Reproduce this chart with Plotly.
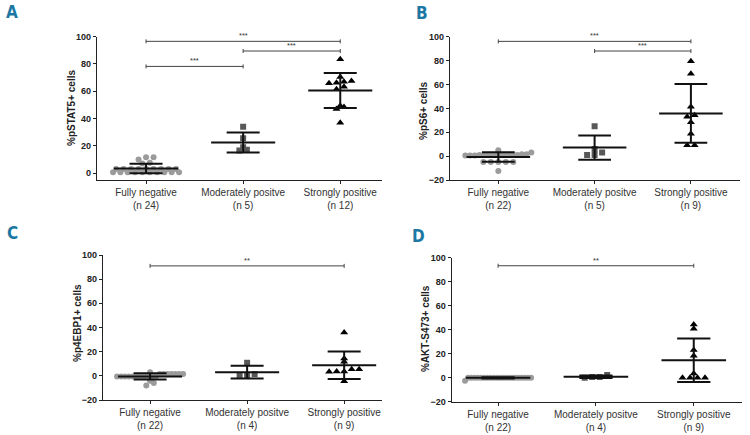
import numpy as np
import plotly.graph_objects as go

W, H = 750, 435

# ---------------- data ----------------
categories = ["Fully negative", "Moderately positve", "Strongly positive"]

A_counts = [24, 5, 12]
A_neg = [11.5, 11.5, 10, 7.5, 7, 3, 3, 3, 3, 3, 3, 3, 3, 3,
         0.5, 0.5, 0.5, 0.5, 0.5, 0.5, 0.5, 0.5, 0.5, 0.5]
A_mod = [34, 25.5, 19, 17, 16.5]
A_strong = [83.4, 70.4, 67.5, 67, 66.3, 65.8, 63.3, 61.4, 49.4, 48.4, 46.9, 36.9]

B_counts = [22, 5, 9]
B_neg = [5, 3, 1.5, 1.5, 1, 1, 1, 1, 1, 1, 1, 1, 1, 0.5, 0.5, 0.5,
         -5, -5, -5, -5, -5, -12.5]
B_mod = [25, 6, 3, 1, 1]
B_strong = [79.4, 69, 41.4, 34.2, 33, 28.3, 18.8, 9, 9]

C_counts = [22, 4, 9]
C_neg = [3, 1.5, 1.5, 1.5, 1.5, 1.5, 1.5, 1.5,
         -0.5, -0.5, -0.5, -0.5, -0.5, -0.5, -0.5, -0.5, -0.5, -0.5, -0.5,
         -4, -6, -8]
C_mod = [10.8, 1.4, 0, 0]
C_strong = [35.9, 14.3, 11.6, 5.5, 5.5, 3.6, 3.6, 3.3, -4.4]

D_counts = [22, 4, 9]
D_neg = [0] * 21 + [-2.5]
D_mod = [2.2, 0.5, 0.5, 0]
D_strong = [44.4, 40.8, 23, 18.3, 3.6, 0, 0, 0, 0]

y_titles = ["%pSTAT5+ cells", "%pS6+ cells", "%p4EBP1+ cells", "%AKT-S473+ cells"]
panel_letters = ["A", "B", "C", "D"]
y_ticks = [-20, 0, 20, 40, 60, 80, 100]

# significance brackets: (from category, to category, height, label)
A_sig = [(0, 2, 96.6, "***"), (1, 2, 89.5, "***"), (0, 1, 78.2, "***")]
B_sig = [(0, 2, 96.1, "***"), (1, 2, 88.0, "***")]
C_sig = [(0, 2, 91.0, "**")]
D_sig = [(0, 2, 93.3, "**")]

# ---------------- layout geometry (pixels) ----------------
panels = [
    dict(groups=[A_neg, A_mod, A_strong], counts=A_counts, sig=A_sig,
         px=(97, 382), py=(36.7, 180), yr=(-5.1, 100), xr=(-0.505, 2.43),
         letter_xy=(12, 12), title_xy=(71, 108)),
    dict(groups=[B_neg, B_mod, B_strong], counts=B_counts, sig=B_sig,
         px=(450, 740), py=(36.7, 180), yr=(-20, 100), xr=(-0.502, 2.51),
         letter_xy=(422, 13), title_xy=(423, 110)),
    dict(groups=[C_neg, C_mod, C_strong], counts=C_counts, sig=C_sig,
         px=(103, 382), py=(255, 400), yr=(-20, 100), xr=(-0.485, 2.39),
         letter_xy=(12, 233), title_xy=(77, 323)),
    dict(groups=[D_neg, D_mod, D_strong], counts=D_counts, sig=D_sig,
         px=(451.7, 741.7), py=(257.7, 401.7), yr=(-20, 100), xr=(-0.474, 2.49),
         letter_xy=(418, 236), title_xy=(425, 329)),
]

marker_styles = [
    dict(symbol="circle", size=6, color="#9b9b9b"),
    dict(symbol="square", size=6, color="#585858"),
    dict(symbol="triangle-up", size=7, color="#000000"),
]

FONT = "Arial, Liberation Sans, Helvetica, sans-serif"


def swarm(vals, thr_units, step_units, max_half):
    vals = np.asarray(vals, dtype=float)
    order = np.argsort(vals, kind="stable")
    offs = np.zeros(len(vals))
    groups, cur, start = [], [], None
    for i in order:
        if start is None or vals[i] - start > thr_units:
            if cur:
                groups.append(cur)
            cur, start = [i], vals[i]
        else:
            cur.append(i)
    if cur:
        groups.append(cur)
    for g in groups:
        n = len(g)
        if n == 1:
            continue
        sp = min(step_units, 2 * max_half / (n - 1))
        o = (np.arange(n) - (n - 1) / 2) * sp
        for k, idx in enumerate(g):
            offs[idx] = o[k]
    return offs


fig = go.Figure()
layout = {}
annotations = []

for p_i, p in enumerate(panels):
    sfx = "" if p_i == 0 else str(p_i + 1)
    xa, ya = "x" + sfx, "y" + sfx
    x0, x1 = p["px"]
    yt, yb = p["py"]
    xr, yr = p["xr"], p["yr"]
    px_per_x = (x1 - x0) / (xr[1] - xr[0])
    px_per_y = (yb - yt) / (yr[1] - yr[0])

    # points
    for c, vals in enumerate(p["groups"]):
        offs = swarm(vals, 3.0 / px_per_y, 7.5 / px_per_x, 33.0 / px_per_x)
        fig.add_trace(go.Scatter(
            x=c + offs, y=vals, mode="markers", xaxis=xa, yaxis=ya,
            marker=dict(**marker_styles[c], line=dict(width=0)),
            showlegend=False, hoverinfo="skip"))

    # mean +/- SD
    lx, ly = [], []
    for c, vals in enumerate(p["groups"]):
        v = np.asarray(vals, dtype=float)
        m, s = v.mean(), v.std(ddof=1)
        lx += [c - 0.33, c + 0.33, None, c, c, None,
               c - 0.17, c + 0.17, None, c - 0.17, c + 0.17, None]
        ly += [m, m, None, m - s, m + s, None,
               m + s, m + s, None, m - s, m - s, None]
    fig.add_trace(go.Scatter(x=lx, y=ly, mode="lines", xaxis=xa, yaxis=ya,
                             line=dict(color="#111111", width=2),
                             showlegend=False, hoverinfo="skip"))

    # significance brackets
    bx, by = [], []
    cap = 2.0 / px_per_y
    for (a, b, h, lab) in p["sig"]:
        bx += [a, b, None, a, a, None, b, b, None]
        by += [h, h, None, h - cap, h + cap, None, h - cap, h + cap, None]
        annotations.append(dict(x=(a + b) / 2, y=h, xref=xa, yref=ya,
                                text=lab, showarrow=False, yanchor="bottom",
                                xanchor="center", yshift=-1,
                                font=dict(size=7.5, color="#333333", family=FONT)))
    fig.add_trace(go.Scatter(x=bx, y=by, mode="lines", xaxis=xa, yaxis=ya,
                             line=dict(color="#444444", width=1),
                             showlegend=False, hoverinfo="skip"))

    ticktext = [f"{categories[c]}<br>(n {p['counts'][c]})" for c in range(3)]
    layout["xaxis" + sfx] = dict(
        domain=[x0 / W, x1 / W], range=list(xr), anchor=ya,
        tickvals=[0, 1, 2], ticktext=ticktext, ticks="outside", ticklen=3,
        tickwidth=1, tickcolor="#222", showline=True, linecolor="#222",
        linewidth=1.3, showgrid=False, zeroline=False, fixedrange=True,
        tickfont=dict(size=10, color="#333333", family=FONT),
        automargin=False)
    yt_vals = [t for t in y_ticks if t >= yr[0] - 0.01]
    layout["yaxis" + sfx] = dict(
        domain=[1 - yb / H, 1 - yt / H], range=list(yr), anchor=xa,
        tickvals=yt_vals, ticks="outside", ticklen=3, tickwidth=1,
        tickcolor="#222", showline=True, linecolor="#222", linewidth=1.3,
        showgrid=False, zeroline=False, fixedrange=True,
        tickfont=dict(size=9, color="#222222", family=FONT, weight="bold"),
        automargin=False)

    lx_, ly_ = p["letter_xy"]
    annotations.append(dict(x=lx_ / W, y=1 - ly_ / H, xref="paper", yref="paper",
                            xanchor="center", yanchor="middle",
                            text=panel_letters[p_i], showarrow=False,
                            font=dict(size=17, color="#1d77a3",
                                      family="Liberation Sans Narrow, DejaVu Sans Condensed, Arial",
                                      weight="bold")))
    tx, ty = p["title_xy"]
    annotations.append(dict(x=tx / W, y=1 - ty / H, xref="paper", yref="paper",
                            xanchor="center", yanchor="middle",
                            text=y_titles[p_i], showarrow=False, textangle=-90,
                            font=dict(size=10, color="#222222", family=FONT,
                                      weight="bold")))

fig.update_layout(
    width=W, height=H, margin=dict(l=0, r=0, t=0, b=0),
    paper_bgcolor="white", plot_bgcolor="white",
    annotations=annotations, showlegend=False, **layout)

fig.write_html("out.html", config={"displayModeBar": False},
               post_script="document.body.style.margin='0';document.body.style.padding='0';")
